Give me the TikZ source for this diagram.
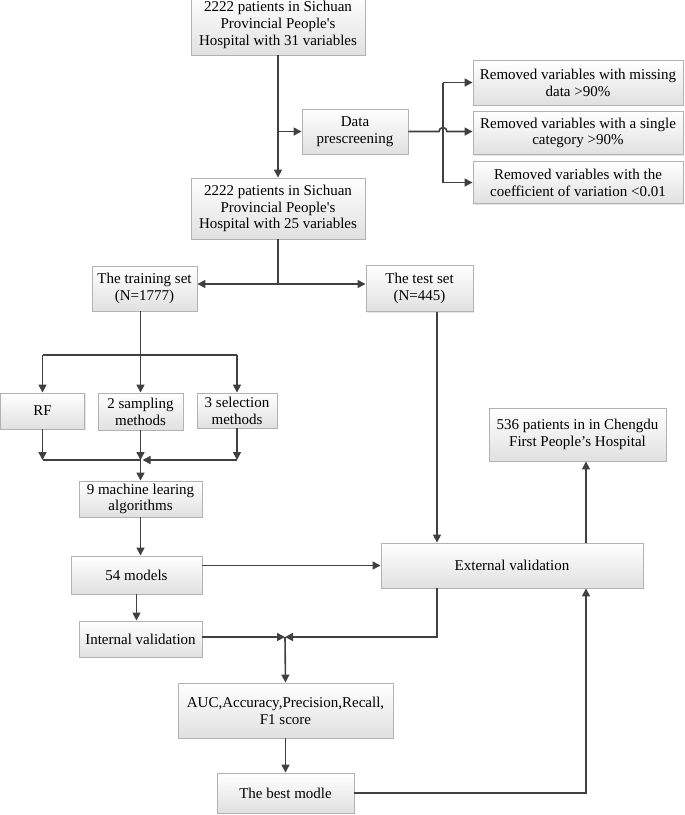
\documentclass[tikz,border=0pt]{standalone}
\usepackage{fontspec}
\setmainfont{Liberation Serif}[Ligatures=TeXOff]
\usetikzlibrary{arrows.meta,calc,shadows}

\begin{document}
\begin{tikzpicture}[x=1pt, y=-1pt, line width=1.6pt,
  box/.style={draw=gray!60, line width=0.9pt, top color=white, bottom color=black!12,
    align=center, inner sep=0pt, font=\fontsize{15}{16.8}\selectfont,
    drop shadow={shadow xshift=1.2pt, shadow yshift=-1.2pt, opacity=0.25, fill=black!40}},
  arr/.style={draw=black!75, -{Triangle[length=8pt,width=8pt]}},
  link/.style={draw=black!75}]
  \useasboundingbox (0,0) rectangle (685,815);
  % Source cohort and prescreening
  \node[box, minimum width=174pt, minimum height=60pt] (src) at (278,25) {2222 patients in Sichuan\\Provincial People's\\Hospital with 31 variables};
  \node[box, minimum width=106pt, minimum height=45pt] (pre) at (355,131.5) {Data\\prescreening};
  \node[box, minimum width=210pt, minimum height=45pt] (r1) at (578,82.5) {Removed variables with missing\\data >90\%};
  \node[box, minimum width=210pt, minimum height=43pt] (r2) at (578,133) {Removed variables with a single\\category >90\%};
  \node[box, minimum width=210pt, minimum height=42pt] (r3) at (578,182.5) {Removed variables with the\\coefficient of variation <0.01};
  \node[box, minimum width=174pt, minimum height=61pt] (mid) at (278,208.5) {2222 patients in Sichuan\\Provincial People's\\Hospital with 25 variables};
  % Split
  \node[box, minimum width=105pt, minimum height=45pt] (train) at (144.5,288.5) {The training set\\(N=1777)};
  \node[box, minimum width=107pt, minimum height=46pt] (test) at (419.5,288.5) {The test set\\(N=445)};
  % Methods
  \node[box, minimum width=84pt, minimum height=36pt] (rf) at (42.5,411) {RF};
  \node[box, minimum width=85pt, minimum height=37pt] (samp) at (140.5,411.5) {2 sampling\\methods};
  \node[box, minimum width=80pt, minimum height=35pt] (sel) at (237,410.5) {3 selection\\methods};
  \node[box, minimum width=123pt, minimum height=36pt] (ml) at (140.5,499) {9 machine learing\\algorithms};
  \node[box, minimum width=131pt, minimum height=38pt] (mods) at (136.5,575) {54 models};
  \node[box, minimum width=123pt, minimum height=36pt] (intv) at (140.5,639) {Internal validation};
  \node[box, minimum width=262pt, minimum height=45pt] (extv) at (512,565.5) {External validation};
  \node[box, minimum width=177pt, minimum height=53pt] (cd) at (577.5,434.5) {536 patients in in Chengdu\\First People’s Hospital};
  \node[box, minimum width=215pt, minimum height=55pt] (met) at (285.5,710.5) {AUC,Accuracy,Precision,Recall,\\F1 score};
  \node[box, minimum width=137pt, minimum height=40pt] (best) at (285.5,793) {The best modle};
  % Helper points
  \coordinate (jx) at (443,0);
  \coordinate (sp) at (278,284);
  \coordinate (fan) at (140.5,355);
  \coordinate (mg) at (140.5,460);
  \coordinate (tx) at (437,0);
  \coordinate (rx) at (586,0);
  \coordinate (mg2) at (285,637);
  % Connectors
  \draw[arr] (src.south) -- (mid.north);
  \draw[arr] (src.south |- pre.west) -- (pre.west);
  \draw[arr] (pre.east) -- ($(jx |- pre.east)+(-4,0)$) arc[start angle=180, end angle=0, radius=4pt] -- (r2.west |- pre.east);
  \draw[link] (jx |- r1.west) -- (jx |- r3.west);
  \draw[arr] (jx |- r1.west) -- (r1.west);
  \draw[arr] (jx |- r3.west) -- (r3.west);
  \draw[link] (mid.south) -- (sp);
  \draw[arr] (sp) -- (train.east |- sp);
  \draw[arr] (sp) -- (test.west |- sp);
  \draw[link] (train.south -| fan) -- (fan);
  \draw[link] (rf.north |- fan) -- (sel.north |- fan);
  \draw[arr] (rf.north |- fan) -- (rf.north);
  \draw[arr] (fan) -- (samp.north);
  \draw[arr] (sel.north |- fan) -- (sel.north);
  \draw[arr] (rf.south) -- (rf.south |- mg);
  \draw[arr] (samp.south) -- (mg);
  \draw[arr] (sel.south) -- (sel.south |- mg);
  \draw[link] (rf.south |- mg) -- (mg);
  \draw[arr] (sel.south |- mg) -- ($(mg)+(2,0)$);
  \draw[arr] (mg) -- (ml.north);
  \draw[arr] (ml.south) -- (ml.south |- mods.north);
  \draw[arr] (mods.south) -- (mods.south |- intv.north);
  \draw[arr] (extv.west -| mods.east) -- (extv.west);
  \draw[arr] (test.south -| tx) -- (extv.north -| tx);
  \draw[arr] (extv.north -| rx) -- (cd.south -| rx);
  \draw[arr] (intv.east |- mg2) -- (mg2);
  \draw[arr] (extv.south -| tx) |- (mg2);
  \draw[arr] (mg2) -- (met.north);
  \draw[arr] (met.south) -- (best.north);
  \draw[arr] (best.east) -| (extv.south -| rx);
\end{tikzpicture}
\end{document}
